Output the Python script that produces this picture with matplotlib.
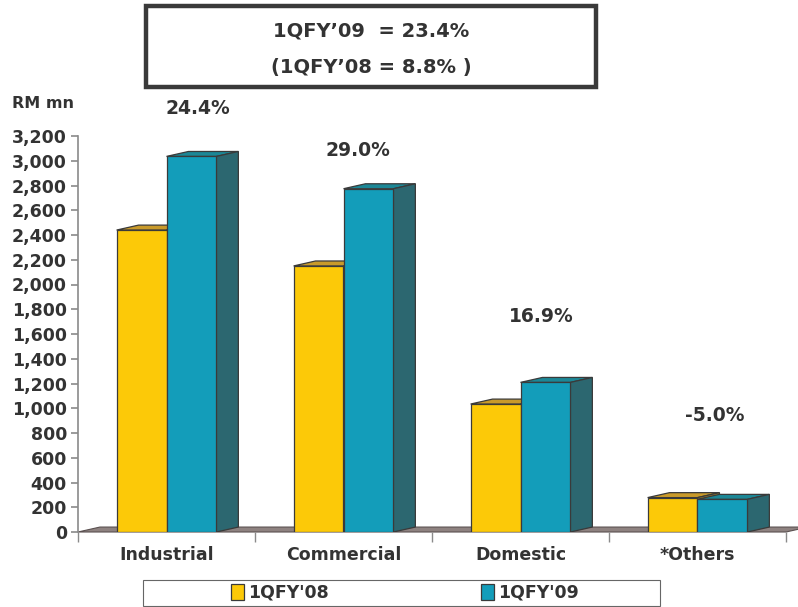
import matplotlib
matplotlib.use("Agg")
import matplotlib.pyplot as plt
from matplotlib.patches import Polygon, Rectangle, Patch

# Revenue by customer segment, RM million
categories = ["Industrial", "Commercial", "Domestic", "*Others"]
fy08 = [2440, 2150, 1034, 278]
fy09 = [3035, 2774, 1209, 264]
growth = ["24.4%", "29.0%", "16.9%", "-5.0%"]
series_names = ["1QFY'08", "1QFY'09"]
yticks = list(range(0, 3201, 200))
headline = ["1QFY\u201909  = 23.4%", "(1QFY\u201908 = 8.8% )"]

TXT = "#333333"
FRONT = ["#FCC908", "#139DBA"]
TOP = ["#C99A2A", "#1C8796"]
SIDE = ["#A88420", "#2C6770"]
FLOOR = "#8E8280"
EDGE = "#3a3a3a"

plt.rcParams["font.family"] = ["DejaVu Sans"]
plt.rcParams["font.weight"] = "bold"

fig = plt.figure(figsize=(7.98, 6.07), dpi=100)
W, H = 798, 607
ax = fig.add_axes([78 / W, (H - 532) / H, (786 - 78) / W, (532 - 136) / H])
ax.set_xlim(-0.5, len(categories) - 0.5)
ax.set_ylim(0, 3200)

bw = 0.282
# depth offset of the 3-D look, in data units
dx = 0.124
dy = 40

# floor
x0, x1 = ax.get_xlim()
floor = Polygon([(x0, 0), (x1, 0), (x1 + dx, dy), (x0 + dx, dy)], closed=True,
                facecolor=FLOOR, edgecolor="#5a5050", lw=0.8, zorder=1, clip_on=False)
ax.add_patch(floor)


def box3d(xl, h, k, z):
    xr = xl + bw
    ax.add_patch(Polygon([(xl, h), (xr, h), (xr + dx, h + dy), (xl + dx, h + dy)],
                         closed=True, facecolor=TOP[k], edgecolor=EDGE, lw=0.9, zorder=z))
    ax.add_patch(Polygon([(xr, 0), (xr + dx, dy), (xr + dx, h + dy), (xr, h)],
                         closed=True, facecolor=SIDE[k], edgecolor=EDGE, lw=0.9, zorder=z))
    ax.bar(xl, h, width=bw, align="edge", color=FRONT[k], edgecolor=EDGE,
           lw=0.9, zorder=z + 0.5)


for i in range(len(categories)):
    box3d(i - bw, fy08[i], 0, 2)
    box3d(i, fy09[i], 1, 4)

# growth labels
label_y = [3420, 3080, 1740, 940]
label_dx = [0.18, 0.08, 0.12, 0.10]
for i, g in enumerate(growth):
    ax.text(i + label_dx[i], label_y[i], g, ha="center", va="center",
            fontsize=13.5, fontweight="bold", color=TXT, clip_on=False)

# axes styling
for s in ["top", "right", "bottom"]:
    ax.spines[s].set_visible(False)
ax.spines["left"].set_color("#8a8a8a")
ax.spines["left"].set_linewidth(1.2)
ax.set_yticks(yticks)
ax.set_yticklabels([f"{v:,}" for v in yticks])
ax.tick_params(axis="y", length=5, width=1.2, color="#8a8a8a", labelsize=12.5,
               labelcolor=TXT, pad=3)

ax.set_xticks([i + 0.5 for i in range(-1, len(categories))], minor=False)
ax.set_xticklabels([])
ax.tick_params(axis="x", length=7, width=1.0, color="#8a8a8a")
for i, c in enumerate(categories):
    ax.text(i, -110, c, ha="center", va="top", fontsize=12.5, fontweight="bold",
            color=TXT)

fig.text(12 / W, 1 - 103 / H, "RM mn", ha="left", va="center", fontsize=11.5,
         fontweight="bold", color=TXT)

# headline box
fig.patches.append(Rectangle((146 / W, 1 - 87 / H), (596 - 146) / W, (87 - 6) / H,
                             transform=fig.transFigure, facecolor="white",
                             edgecolor="#3a3a3a", lw=3.2))
fig.text(371 / W, 1 - 31 / H, headline[0], ha="center", va="center",
         fontsize=14, fontweight="bold", color=TXT)
fig.text(371 / W, 1 - 68 / H, headline[1], ha="center", va="center",
         fontsize=14, fontweight="bold", color=TXT)

# legend frame and entries
fig.patches.append(Rectangle((143 / W, 1 - 606 / H), (660 - 143) / W, (606 - 580) / H,
                             transform=fig.transFigure, facecolor="white",
                             edgecolor="#666666", lw=0.8))
handles = [Patch(facecolor=FRONT[k], edgecolor=EDGE, lw=0.9) for k in range(2)]
leg = fig.legend(handles, series_names, ncol=2, loc="center",
                 bbox_to_anchor=(405 / W, 1 - 593 / H), frameon=False,
                 fontsize=12.5, handlelength=0.7,
                 handleheight=1.0, handletextpad=0.25, columnspacing=8.8,
                 borderpad=0.15, borderaxespad=0)
for t in leg.get_texts():
    t.set_color(TXT)
    t.set_fontweight("bold")

fig.savefig("out.png", dpi=100, facecolor="white")
